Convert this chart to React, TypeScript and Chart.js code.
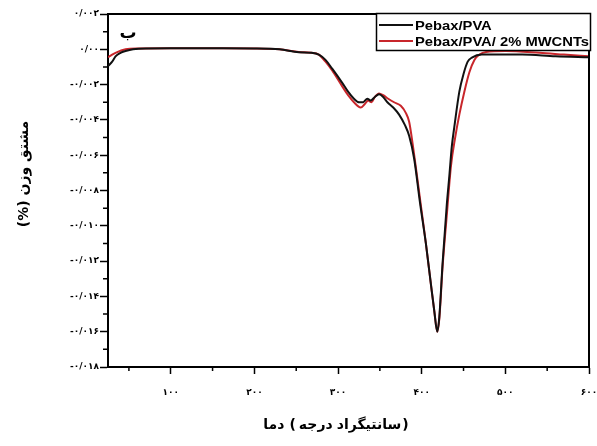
import React, { useEffect, useRef } from 'react';
import { Chart, registerables } from 'chart.js';

Chart.register(...registerables);

// ---------- data ----------
const seriesLabels = ['Pebax/PVA', 'Pebax/PVA/ 2% MWCNTs'];
const seriesColors = ['#111111', '#c8262b'];

const tempPebax = [25, 30, 34, 40, 46, 55, 70, 100, 150, 200, 230, 253, 268, 277, 285, 293, 305, 312, 319, 325, 330, 335, 339, 344, 349, 354, 359, 366, 373, 380, 385, 391, 398, 405, 411, 415, 418.6, 421, 425, 430, 433, 436, 439, 445, 450, 455, 460, 472, 520, 560, 600];
const dtgPebax = [-0.00095, -0.0007, -0.0004, -0.0002, -0.0001, 0.0, 0.00005, 0.00006, 0.00006, 0.00005, 0.0, -0.00017, -0.0002, -0.0003, -0.0006, -0.0011, -0.0019, -0.0024, -0.0028, -0.003, -0.003, -0.0028, -0.0029, -0.0027, -0.00255, -0.0027, -0.003, -0.0033, -0.0037, -0.0043, -0.0049, -0.0062, -0.0087, -0.011, -0.0133, -0.0148, -0.016, -0.0152, -0.0121, -0.0088, -0.0072, -0.0055, -0.0044, -0.0024, -0.0014, -0.0007, -0.00047, -0.0003, -0.0003, -0.0004, -0.00045];

const tempComposite = [25, 30, 34, 46, 60, 100, 150, 200, 230, 253, 268, 277, 285, 293, 305, 312, 319, 327, 332, 336, 340, 344, 349, 354, 360, 367, 375, 381, 385, 389, 395, 400, 405, 411, 415, 418.6, 421, 425, 430, 435, 440, 445, 451, 457, 463, 469, 477, 500, 541, 570, 600];
const dtgComposite = [-0.00045, -0.0003, -0.0002, 0.0, 0.00005, 0.00006, 0.00006, 0.00005, 0.0, -0.00015, -0.0002, -0.0003, -0.0007, -0.0012, -0.0021, -0.0026, -0.003, -0.0033, -0.0031, -0.0029, -0.003, -0.0027, -0.0025, -0.0026, -0.0028, -0.003, -0.0032, -0.0036, -0.0041, -0.0053, -0.0074, -0.0092, -0.011, -0.0133, -0.0148, -0.016, -0.0153, -0.0123, -0.0094, -0.0066, -0.005, -0.0037, -0.0024, -0.0013, -0.0006, -0.0003, -0.00015, -0.0001, -0.0002, -0.0003, -0.0004];

const xTickValues = [100, 200, 300, 400, 500, 600];
const xTickLabels = ['۱۰۰', '۲۰۰', '۳۰۰', '۴۰۰', '۵۰۰', '۶۰۰'];
const xMinorValues = [50, 150, 250, 350, 450, 550];

const yTickValues = [0.002, 0, -0.002, -0.004, -0.006, -0.008, -0.01, -0.012, -0.014, -0.016, -0.018];
const yTickLabels = ['۰/۰۰۲', '۰/۰۰', '-۰/۰۰۲', '-۰/۰۰۴', '-۰/۰۰۶', '-۰/۰۰۸', '-۰/۰۱۰', '-۰/۰۱۲', '-۰/۰۱۴', '-۰/۰۱۶', '-۰/۰۱۸'];
const yMinorValues = [0.001, -0.001, -0.003, -0.005, -0.007, -0.009, -0.011, -0.013, -0.015, -0.017];

// x title pieces, in the left-to-right visual order of the reference
const xTitleParts = ['دما', '(', 'درجه', 'سانتیگراد', ')'];
const xTitleGaps = [5, 3, 4, 1, 0];
const yTitle = 'مشتق وزن (%)';
const panelLabel = 'ب';

const findIndex = (arr: number[], v: number) => arr.findIndex((a) => Math.abs(a - v) < 1e-9);

const decorPlugin = {
  id: 'decor',
  afterDraw(chart: any) {
    const { ctx, chartArea } = chart;
    const { left, right, top, bottom } = chartArea;
    const xs = chart.scales.x;
    const ys = chart.scales.y;
    ctx.save();
    // box top & right
    ctx.strokeStyle = '#000';
    ctx.lineWidth = 2;
    ctx.beginPath();
    ctx.moveTo(left - 1, top);
    ctx.lineTo(right, top);
    ctx.lineTo(right, bottom + 1);
    ctx.stroke();
    // minor ticks
    ctx.lineWidth = 1.5;
    ctx.beginPath();
    xMinorValues.forEach((v) => {
      const px = xs.getPixelForValue(v);
      ctx.moveTo(px, bottom + 1);
      ctx.lineTo(px, bottom + 4);
    });
    yMinorValues.forEach((v) => {
      const py = ys.getPixelForValue(v);
      ctx.moveTo(left - 1, py);
      ctx.lineTo(left - 5, py);
    });
    ctx.stroke();

    // legend
    const bx = 376.5, by = 13.5, bw = 214, bh = 37;
    ctx.fillStyle = '#fff';
    ctx.fillRect(bx, by, bw, bh);
    ctx.strokeStyle = '#000';
    ctx.lineWidth = 1.5;
    ctx.strokeRect(bx, by, bw, bh);
    ctx.font = 'bold 13px "Liberation Sans", Arial, sans-serif';
    ctx.textBaseline = 'middle';
    ctx.textAlign = 'left';
    const widest = Math.max(...chart.data.datasets.map((d: any) => ctx.measureText(d.label).width));
    const sx = 174 / widest;
    chart.data.datasets.forEach((ds: any, i: number) => {
      const ly = 25 + i * 16;
      ctx.strokeStyle = ds.borderColor;
      ctx.lineWidth = 2;
      ctx.beginPath();
      ctx.moveTo(379, ly);
      ctx.lineTo(413, ly);
      ctx.stroke();
      ctx.save();
      ctx.translate(415, ly + 1);
      ctx.scale(sx, 1);
      ctx.fillStyle = '#000';
      ctx.fillText(ds.label, 0, 0);
      ctx.restore();
    });

    // panel label
    ctx.fillStyle = '#000';
    ctx.font = 'bold 17px "DejaVu Sans", sans-serif';
    ctx.textAlign = 'center';
    ctx.textBaseline = 'middle';
    ctx.fillText(panelLabel, 128, 34);

    // x title (pieces laid out left to right)
    ctx.font = 'bold 14px "DejaVu Sans", sans-serif';
    ctx.textAlign = 'left';
    const widths = xTitleParts.map((p) => ctx.measureText(p).width);
    const total = widths.reduce((a, b) => a + b, 0) + xTitleGaps.reduce((a, b) => a + b, 0);
    let cx = 336 - total / 2;
    xTitleParts.forEach((p, i) => {
      ctx.fillText(p, cx, 425);
      cx += widths[i] + xTitleGaps[i];
    });

    // y title
    ctx.save();
    ctx.translate(24, 174);
    ctx.rotate(-Math.PI / 2);
    ctx.direction = 'rtl';
    ctx.textAlign = 'center';
    ctx.font = 'bold 14px "DejaVu Sans", sans-serif';
    ctx.fillText(yTitle, 0, 0);
    ctx.restore();

    ctx.restore();
  },
};

export default function App() {
  const canvasRef = useRef<HTMLCanvasElement | null>(null);

  useEffect(() => {
    const canvas = canvasRef.current;
    if (!canvas) return;
    const chart = new Chart(canvas, {
      type: 'line',
      data: {
        datasets: [
          {
            label: seriesLabels[0],
            data: tempPebax.map((t, i) => ({ x: t, y: dtgPebax[i] })),
            borderColor: seriesColors[0],
            borderWidth: 2,
            pointRadius: 0,
            cubicInterpolationMode: 'monotone',
            fill: false,
          },
          {
            label: seriesLabels[1],
            data: tempComposite.map((t, i) => ({ x: t, y: dtgComposite[i] })),
            borderColor: seriesColors[1],
            borderWidth: 2,
            pointRadius: 0,
            cubicInterpolationMode: 'monotone',
            fill: false,
          },
        ],
      },
      options: {
        animation: false,
        responsive: false,
        devicePixelRatio: 1,
        layout: { autoPadding: false, padding: { top: 14, right: 8, left: 0, bottom: 0 } },
        plugins: { legend: { display: false }, tooltip: { enabled: false }, title: { display: false } },
        scales: {
          x: {
            type: 'linear',
            min: 25,
            max: 600,
            afterBuildTicks: (scale: any) => {
              scale.ticks = xTickValues.map((value) => ({ value }));
            },
            afterFit: (scale: any) => {
              scale.height = 79;
              scale.paddingLeft = 0;
              scale.paddingRight = 0;
            },
            border: { display: true, color: '#000', width: 2 },
            grid: { display: true, drawOnChartArea: false, drawTicks: true, tickLength: 7, tickColor: '#000', tickWidth: 1.5 },
            ticks: {
              color: '#000',
              autoSkip: false,
              maxRotation: 0,
              padding: 13,
              font: { family: '"DejaVu Sans", sans-serif', size: 9, weight: 'bold' },
              callback: (value: any) => {
                const i = findIndex(xTickValues, Number(value));
                return i >= 0 ? xTickLabels[i] : '';
              },
            },
          },
          y: {
            type: 'linear',
            min: -0.018,
            max: 0.002,
            afterBuildTicks: (scale: any) => {
              scale.ticks = yTickValues.map((value) => ({ value }));
            },
            afterFit: (scale: any) => {
              scale.width = 108;
              scale.paddingTop = 0;
              scale.paddingBottom = 0;
            },
            border: { display: true, color: '#000', width: 2 },
            grid: { display: true, drawOnChartArea: false, drawTicks: true, tickLength: 8, tickColor: '#000', tickWidth: 1.5 },
            ticks: {
              color: '#000',
              autoSkip: false,
              padding: 1,
              font: { family: '"DejaVu Sans", sans-serif', size: 9, weight: 'bold' },
              callback: (value: any) => {
                const i = findIndex(yTickValues, Number(value));
                return i >= 0 ? yTickLabels[i] : '';
              },
            },
          },
        },
      },
      plugins: [decorPlugin],
    } as any);
    return () => {
      chart.destroy();
    };
  }, []);

  return (
    <div style={{ position: 'fixed', left: 0, top: 0, width: 597, height: 446, background: '#fff' }}>
      <canvas ref={canvasRef} width={597} height={446} style={{ display: 'block', width: 597, height: 446 }} />
    </div>
  );
}
